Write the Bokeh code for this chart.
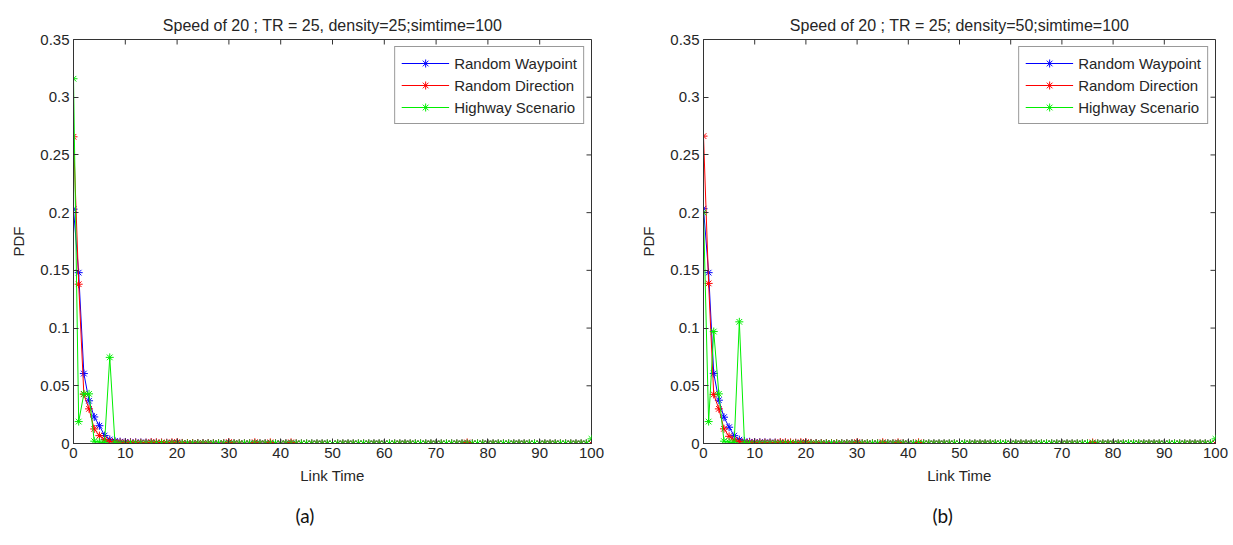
import math
from bokeh.plotting import figure
from bokeh.models import (Range1d, Legend, LegendItem, Title,
                          NumeralTickFormatter, FixedTicker)
from bokeh.layouts import row
from bokeh.embed import file_html
from bokeh.resources import INLINE

# ---------------- data ----------------
link_time = list(range(0, 101))
x_ticks = [0, 10, 20, 30, 40, 50, 60, 70, 80, 90, 100]
y_ticks = [0, 0.05, 0.1, 0.15, 0.2, 0.25, 0.3, 0.35]
x_lim = (0, 100)
y_lim = (0, 0.35)

titles = ["Speed of 20 ; TR = 25, density=25;simtime=100",
          "Speed of 20 ; TR = 25; density=50;simtime=100"]
captions = ["(a)", "(b)"]
series_names = ["Random Waypoint", "Random Direction", "Highway Scenario"]

rw_a = [0.203, 0.148, 0.0606, 0.037, 0.023, 0.0154, 0.0069, 0.0035, 0.0022, 0.0016,
        0.0013, 0.0011, 0.0010, 0.0009, 0.0008, 0.0008, 0.0007, 0.0006, 0.0006, 0.0005,
        0.0005, 0.0004, 0.0004, 0.0003, 0.0003, 0.0003, 0.0002, 0.0002, 0.0002, 0.0002,
        0.0002, 0.0001, 0.0001, 0.0001, 0.0001, 0.0001, 0.0001, 0.0001, 0.0001, 0.0001,
        0.0001, 0.0001, 0.0001, 0, 0, 0, 0, 0, 0, 0,
        0, 0, 0, 0, 0, 0, 0, 0, 0, 0,
        0, 0, 0, 0, 0, 0, 0, 0, 0, 0,
        0, 0, 0, 0, 0, 0, 0, 0, 0, 0,
        0, 0, 0, 0, 0, 0, 0, 0, 0, 0,
        0, 0, 0, 0, 0, 0, 0, 0, 0, 0,
        0]
rd_a = [0.2657, 0.138, 0.0426, 0.030, 0.0126, 0.0068, 0.0035, 0.0019, 0.0012, 0.0010,
        0.0009, 0.0008, 0.0008, 0.0007, 0.0007, 0.0012, 0.0010, 0.0009, 0.0006, 0.0011,
        0.0012, 0.0005, 0.0004, 0.0004, 0.0003, 0.0003, 0.0003, 0.0002, 0.0002, 0.0002,
        0.0012, 0.0002, 0.0002, 0.0001, 0.0001, 0.0011, 0.0001, 0.0001, 0.0010, 0.0001,
        0.0001, 0.0001, 0.0010, 0.0001, 0, 0, 0, 0, 0, 0,
        0, 0, 0, 0, 0, 0, 0, 0, 0, 0,
        0, 0, 0, 0, 0, 0, 0, 0, 0, 0,
        0, 0, 0, 0, 0, 0, 0.0009, 0, 0, 0,
        0, 0, 0, 0, 0, 0, 0, 0, 0, 0,
        0, 0, 0, 0, 0, 0, 0, 0, 0, 0,
        0]
hs_a = [0.316, 0.019, 0.043, 0.043, 0.002, 0.0012, 0.001, 0.0746, 0.0005, 0,
        0, 0, 0, 0, 0, 0, 0, 0, 0, 0,
        0, 0, 0, 0, 0, 0, 0, 0, 0, 0,
        0, 0, 0, 0, 0, 0, 0, 0, 0, 0,
        0, 0, 0, 0, 0, 0, 0, 0, 0, 0,
        0, 0, 0, 0, 0, 0, 0, 0, 0, 0,
        0, 0, 0, 0, 0, 0, 0, 0, 0, 0,
        0, 0, 0, 0, 0, 0, 0, 0, 0, 0,
        0, 0, 0, 0, 0, 0, 0, 0, 0, 0,
        0, 0, 0, 0, 0, 0, 0, 0, 0, 0,
        0.004]

rw_b = [0.2034, 0.148, 0.0607, 0.0375, 0.0228, 0.0141, 0.0068, 0.0033, 0.0021, 0.0015,
        0.0012, 0.0011, 0.0010, 0.0009, 0.0008, 0.0007, 0.0007, 0.0006, 0.0006, 0.0005,
        0.0005, 0.0004, 0.0004, 0.0003, 0.0003, 0.0003, 0.0002, 0.0002, 0.0002, 0.0002,
        0.0002, 0.0001, 0.0001, 0.0001, 0.0001, 0.0001, 0.0001, 0.0001, 0.0001, 0.0001,
        0.0001, 0.0001, 0.0001, 0, 0, 0, 0, 0, 0, 0,
        0, 0, 0, 0, 0, 0, 0, 0, 0, 0,
        0, 0, 0, 0, 0, 0, 0, 0, 0, 0,
        0, 0, 0, 0, 0, 0, 0, 0, 0, 0,
        0, 0, 0, 0, 0, 0, 0, 0, 0, 0,
        0, 0, 0, 0, 0, 0, 0, 0, 0, 0,
        0]
rd_b = [0.2663, 0.1387, 0.0425, 0.030, 0.0127, 0.0062, 0.0031, 0.0018, 0.0012, 0.0010,
        0.0009, 0.0008, 0.0008, 0.0007, 0.0007, 0.0012, 0.0010, 0.0009, 0.0006, 0.0011,
        0.0012, 0.0005, 0.0004, 0.0004, 0.0003, 0.0003, 0.0003, 0.0002, 0.0002, 0.0002,
        0.0012, 0.0002, 0.0002, 0.0001, 0.0001, 0.0011, 0.0001, 0.0001, 0.0010, 0.0001,
        0.0001, 0.0001, 0.0010, 0.0001, 0, 0, 0, 0, 0, 0,
        0, 0, 0, 0, 0, 0, 0, 0, 0, 0,
        0, 0, 0, 0, 0, 0, 0, 0, 0, 0,
        0, 0, 0, 0, 0, 0, 0.0009, 0, 0, 0,
        0, 0, 0, 0, 0, 0, 0, 0, 0, 0,
        0, 0, 0, 0, 0, 0, 0, 0, 0, 0,
        0]
hs_b = [0.20, 0.019, 0.097, 0.043, 0.002, 0.0012, 0.001, 0.1054, 0.0005, 0,
        0, 0, 0, 0, 0, 0, 0, 0, 0, 0,
        0, 0, 0, 0, 0, 0, 0, 0, 0, 0,
        0, 0, 0, 0, 0, 0, 0, 0, 0, 0,
        0, 0, 0, 0, 0, 0, 0, 0, 0, 0,
        0, 0, 0, 0, 0, 0, 0, 0, 0, 0,
        0, 0, 0, 0, 0, 0, 0, 0, 0, 0,
        0, 0, 0, 0, 0, 0, 0, 0, 0, 0,
        0, 0, 0, 0, 0, 0, 0, 0, 0, 0,
        0, 0, 0, 0, 0, 0, 0, 0, 0, 0,
        0.004]

colors = ["#0000ff", "#ff0000", "#00ee00"]
FONT = "Liberation Sans"
TXT = "#262626"
AX = "#333333"


def style_axis(ax):
    ax.axis_line_color = AX
    ax.major_tick_line_color = AX
    ax.major_tick_in = 5
    ax.major_tick_out = 0
    ax.minor_tick_in = 0
    ax.minor_tick_out = 0
    ax.major_label_text_font = FONT
    ax.major_label_text_color = TXT
    ax.major_label_text_font_size = "15px"
    ax.major_label_standoff = 4


def make_plot(title, caption, cap_offset, rw, rd, hs, width, bl, br, bt):
    p = figure(width=width, height=545, x_range=Range1d(*x_lim), y_range=Range1d(*y_lim),
               output_backend="svg", toolbar_location=None,
               min_border_left=bl, min_border_right=br, min_border_top=bt,
               min_border_bottom=102)
    p.background_fill_color = "white"
    p.border_fill_color = "white"
    p.outline_line_color = AX
    p.xgrid.visible = False
    p.ygrid.visible = False

    p.title.text = title
    p.title.align = "center"
    p.title.text_font = FONT
    p.title.text_font_size = "16px"
    p.title.text_font_style = "normal"
    p.title.text_color = TXT
    p.title.standoff = 12

    xa = p.xaxis[0]
    ya = p.yaxis[0]
    xa.ticker = FixedTicker(ticks=x_ticks)
    ya.ticker = FixedTicker(ticks=y_ticks)
    ya.formatter = NumeralTickFormatter(format="0.[00]")
    style_axis(xa)
    style_axis(ya)
    xa.axis_label = "Link Time"
    ya.axis_label = "PDF"
    for a in (xa, ya):
        a.axis_label_text_font = FONT
        a.axis_label_text_font_size = "15px"
        a.axis_label_text_font_style = "normal"
        a.axis_label_text_color = TXT
    xa.axis_label_standoff = 6
    ya.axis_label_standoff = 10

    # inward ticks on the top and right edges of the box
    p.ray(x=x_ticks, y=[y_lim[1]] * len(x_ticks), length=5, length_units="screen",
          angle=-math.pi / 2, line_color=AX, line_width=1)
    p.ray(x=[x_lim[1]] * len(y_ticks), y=y_ticks, length=5, length_units="screen",
          angle=math.pi, line_color=AX, line_width=1)

    items = []
    for name, ys, c in zip(series_names, (rw, rd, hs), colors):
        ln = p.line(link_time, ys, line_color=c, line_width=1)
        sc = p.scatter(link_time, ys, marker="asterisk", size=8, line_color=c, line_width=1)
        items.append(LegendItem(label=name, renderers=[ln, sc]))

    leg = Legend(items=items, location="top_right")
    leg.label_text_font = FONT
    leg.label_text_font_size = "15px"
    leg.label_text_color = TXT
    leg.glyph_width = 48
    leg.glyph_height = 20
    leg.label_height = 20
    leg.label_standoff = 5
    leg.padding = 6
    leg.spacing = 2
    leg.margin = 7
    leg.border_line_color = AX
    leg.border_line_width = 1
    leg.background_fill_color = "white"
    leg.background_fill_alpha = 1
    p.add_layout(leg)

    cap = Title(text=caption, align="left", offset=cap_offset, text_font="Lato",
                text_font_size="19px", text_font_style="normal", text_color="#111111",
                standoff=31)
    p.add_layout(cap, "below")
    return p


p1 = make_plot(titles[0], captions[0], 222, rw_a, rd_a, hs_a, 635, 73, 44, 35)
p2 = make_plot(titles[1], captions[1], 229, rw_b, rd_b, hs_b, 598, 68, 18, 39)
layout = row(p1, p2)

open("out.html", "w").write(file_html(layout, INLINE))
